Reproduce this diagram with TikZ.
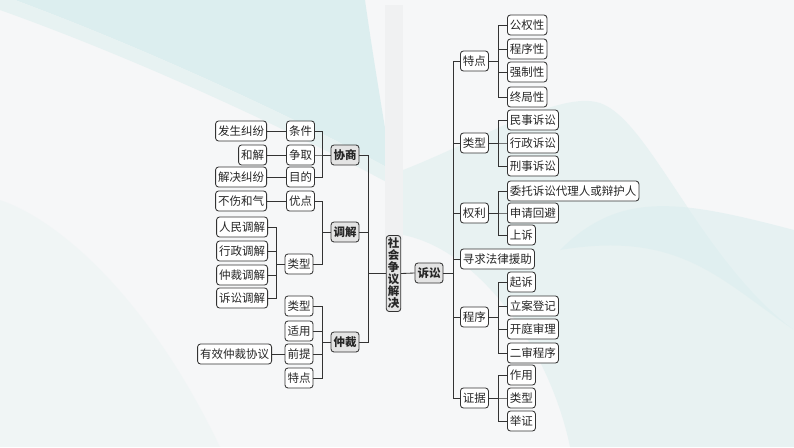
\documentclass[tikz,border=0pt]{standalone}
\usepackage{fontspec}
\newfontfamily\cjk{Noto Sans CJK SC}
\definecolor{bgc}{HTML}{F6F7F8}
\definecolor{tealA}{HTML}{DCEEEF}
\definecolor{tealB}{HTML}{E7F2F2}
\definecolor{stripc}{HTML}{F0F1F2}
\definecolor{lnc}{HTML}{333333}
\definecolor{hlc}{HTML}{E4E4E4}
\begin{document}
\begin{tikzpicture}[x=1pt,y=-1pt,
  box/.style={draw=lnc, line width=0.85pt, rounded corners=3pt, fill=white,
    font=\cjk\fontsize{11.5}{12}\selectfont, text=black!85,
    inner xsep=2.5pt, inner ysep=0pt, minimum height=20pt},
  hbox/.style={box, fill=hlc, font=\cjk\bfseries\fontsize{11.5}{12}\selectfont},
  conn/.style={draw=lnc, line width=0.85pt}]
% background
\fill[bgc] (0,0) rectangle (794,447);
\useasboundingbox (0,0) rectangle (794,447);
\fill[tealA] (15,0) -- (365,0) .. controls (372,50) and (382,110) .. (392,170) .. controls (300,120) and (150,50) .. (15,0) -- cycle;
\fill[tealB] (0,0) -- (15,0) .. controls (150,50) and (300,120) .. (392,170) -- (392,185) .. controls (290,130) and (140,60) .. (0,10) -- cycle;
\fill[stripc] (385,5) rectangle (403,240);
\fill[tealB, opacity=0.9] (403,170) .. controls (480,140) and (560,90) .. (600,103) .. controls (650,120) and (700,260) .. (794,330) -- (794,447) -- (570,447) .. controls (550,350) and (480,250) .. (403,235) -- cycle;
\fill[tealA, opacity=0.6] (560,250) .. controls (620,190) and (680,200) .. (794,230) -- (794,330) .. controls (720,280) and (680,230) .. (560,250) -- cycle;
\fill[tealB, opacity=0.35] (0,200) .. controls (60,220) and (150,300) .. (220,447) -- (0,447) -- cycle;

% root
\node[hbox, align=center, inner xsep=1.5pt, inner ysep=2.5pt, text width=11.5pt] (root) at (393.5,273.5) {社\\会\\争\\议\\解\\决};

% left main
\node[hbox] (xs) at (345,155) {协商};
\node[hbox] (tj) at (345,232) {调解};
\node[hbox] (zc) at (345,342) {仲裁};

\node[box] (xs1) at (300.5,131) {条件};
\node[box] (xs2) at (300.5,155) {争取};
\node[box] (xs3) at (300.5,177) {目的};
\node[box, anchor=east] (xs1a) at (267,131) {发生纠纷};
\node[box, anchor=east] (xs2a) at (267,155) {和解};
\node[box, anchor=east] (xs3a) at (267,177) {解决纠纷};

\node[box] (tj1) at (300.5,201) {优点};
\node[box] (tj2) at (299,264) {类型};
\node[box, anchor=east] (tj1a) at (267,201) {不伤和气};
\node[box, anchor=east] (tj2a) at (268,227) {人民调解};
\node[box, anchor=east] (tj2b) at (268,251) {行政调解};
\node[box, anchor=east] (tj2c) at (268,275) {仲裁调解};
\node[box, anchor=east] (tj2d) at (268,298) {诉讼调解};

\node[box] (zc1) at (299,306) {类型};
\node[box] (zc2) at (299,331) {适用};
\node[box] (zc3) at (299,354) {前提};
\node[box] (zc4) at (299,378) {特点};
\node[box, anchor=east] (zc3a) at (272,354) {有效仲裁协议};

% right
\node[hbox] (ss) at (429,273) {诉讼};
\node[box, anchor=west] (r1) at (460,61) {特点};
\node[box, anchor=west] (r2) at (460,143) {类型};
\node[box, anchor=west] (r3) at (460,213) {权利};
\node[box, anchor=west] (r4) at (460,259) {寻求法律援助};
\node[box, anchor=west] (r5) at (460,317) {程序};
\node[box, anchor=west] (r6) at (460,398) {证据};

\node[box, anchor=west] (r1a) at (507,25) {公权性};
\node[box, anchor=west] (r1b) at (507,49) {程序性};
\node[box, anchor=west] (r1c) at (507,72) {强制性};
\node[box, anchor=west] (r1d) at (507,97) {终局性};
\node[box, anchor=west] (r2a) at (507,120) {民事诉讼};
\node[box, anchor=west] (r2b) at (507,143) {行政诉讼};
\node[box, anchor=west] (r2c) at (507,166) {刑事诉讼};
\node[box, anchor=west] (r3a) at (507,191) {委托诉讼代理人或辩护人};
\node[box, anchor=west] (r3b) at (507,213) {申请回避};
\node[box, anchor=west] (r3c) at (507,235) {上诉};
\node[box, anchor=west] (r5a) at (507,282) {起诉};
\node[box, anchor=west] (r5b) at (507,306) {立案登记};
\node[box, anchor=west] (r5c) at (507,329) {开庭审理};
\node[box, anchor=west] (r5d) at (507,353) {二审程序};
\node[box, anchor=west] (r6a) at (507,375) {作用};
\node[box, anchor=west] (r6b) at (507,398) {类型};
\node[box, anchor=west] (r6c) at (507,421) {举证};

% connectors left
\foreach \c in {xs,tj,zc}
  \draw[conn] (\c.east) -| ([xshift=-17pt]root.west) -- (root.west);
\foreach \c in {xs1,xs2,xs3}
  \draw[conn] (\c.east) -| ([xshift=-8pt]xs.west) -- (xs.west);
\foreach \c in {tj1,tj2}
  \draw[conn] (\c.east) -| ([xshift=-8pt]tj.west) -- (tj.west);
\foreach \c in {zc1,zc2,zc3,zc4}
  \draw[conn] (\c.east) -| ([xshift=-8pt]zc.west) -- (zc.west);
\draw[conn] (xs1a.east) -- (xs1.west);
\draw[conn] (xs2a.east) -- (xs2.west);
\draw[conn] (xs3a.east) -- (xs3.west);
\draw[conn] (tj1a.east) -- (tj1.west);
\draw[conn] (zc3a.east) -- (zc3.west);
\foreach \c in {tj2a,tj2b,tj2c,tj2d}
  \draw[conn] (\c.east) -| ([xshift=-8pt]tj2.west) -- (tj2.west);

% connectors right
\draw[conn] (root.east) -- (ss.west);
\foreach \c in {r1,r2,r3,r4,r5,r6}
  \draw[conn] (\c.west) -| ([xshift=10pt]ss.east) -- (ss.east);
\foreach \c in {r1a,r1b,r1c,r1d}
  \draw[conn] (\c.west) -| ([xshift=10pt]r1.east) -- (r1.east);
\foreach \c in {r2a,r2b,r2c}
  \draw[conn] (\c.west) -| ([xshift=10pt]r2.east) -- (r2.east);
\foreach \c in {r3a,r3b,r3c}
  \draw[conn] (\c.west) -| ([xshift=10pt]r3.east) -- (r3.east);
\foreach \c in {r5a,r5b,r5c,r5d}
  \draw[conn] (\c.west) -| ([xshift=10pt]r5.east) -- (r5.east);
\foreach \c in {r6a,r6b,r6c}
  \draw[conn] (\c.west) -| ([xshift=10pt]r6.east) -- (r6.east);
\end{tikzpicture}
\end{document}
